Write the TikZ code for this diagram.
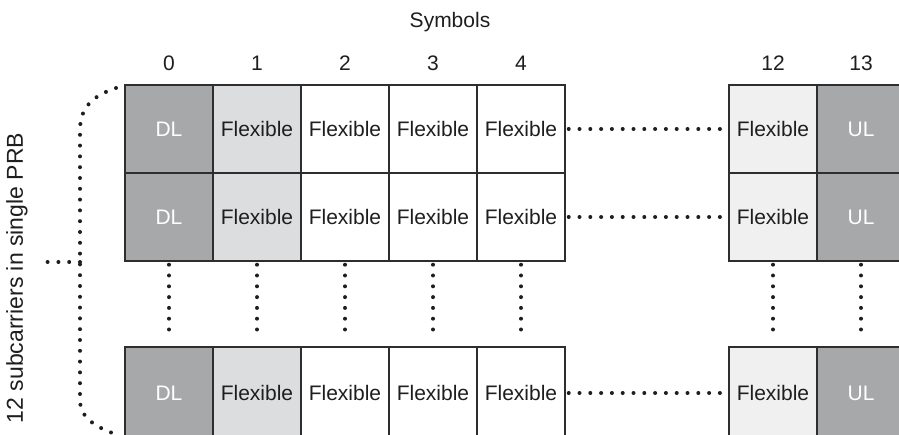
\documentclass[tikz,border=0pt]{standalone}
\usepackage{fontspec}
\setmainfont{Liberation Sans}
\definecolor{cellDark}{HTML}{A7A8AA}
\definecolor{cellMid}{HTML}{DCDDDF}
\definecolor{cellPale}{HTML}{F0F0F1}
\definecolor{edge}{HTML}{2E2E2E}
\definecolor{ink}{HTML}{1E1E1E}
\begin{document}
\begin{tikzpicture}[x=1pt,y=-1pt,
  cell/.style={draw=edge,line width=1.4pt,minimum width=88pt,minimum height=88pt,
    inner sep=0pt,font=\fontsize{21}{25}\selectfont,text=ink},
  tallcell/.style={minimum height=92pt},
  dl/.style={cell,fill=cellDark,text=white},
  flexA/.style={cell,fill=cellMid},
  flexB/.style={cell,fill=white},
  flexC/.style={cell,fill=cellPale},
  dots/.style={line width=4pt,line cap=round,dash pattern=on 0pt off 10.8pt,ink},
  hdr/.style={font=\fontsize{21}{25}\selectfont,text=ink}]
\useasboundingbox (0,0) rectangle (899,435);
\clip (0,0) rectangle (899,435);

% column headings
\node[hdr] (sym) at (450,22) {Symbols};
\foreach \lab/\cx in {0/169,1/257,2/345,3/433,4/521,12/773,13/861}
  \node[hdr] (h\lab) at (\cx,63) {\lab};

% three rows of resource elements (the last one runs past the lower edge)
\foreach \r/\cy/\extra in {a/129/{},b/217/{},c/393/tallcell}{
  \node[dl,\extra]    (\r0)  at (169,\cy) {DL};
  \node[flexA,\extra] (\r1)  at (257,\cy) {Flexible};
  \node[flexB,\extra] (\r2)  at (345,\cy) {Flexible};
  \node[flexB,\extra] (\r3)  at (433,\cy) {Flexible};
  \node[flexB,\extra] (\r4)  at (521,\cy) {Flexible};
  \node[flexC,\extra] (\r12) at (773,\cy) {Flexible};
  \node[dl,\extra]    (\r13) at (861,\cy) {UL};
  \draw[dots] ([xshift=3pt]\r4.east) -- ([xshift=-2pt]\r12.west);
}

% skipped rows between second and last
\foreach \k in {0,1,2,3,4,12,13}
  \draw[dots] ([yshift=-3pt]b\k.south) -- ([yshift=8pt]c\k.north);

% brace over the 12 subcarriers
\coordinate (bt) at (116,88);
\coordinate (bb) at (121,436);
\coordinate (bm) at (80,262);
\coordinate (bl) at (41,262);
\draw[dots] (bt) .. controls (92,96) and (80,108) .. (80,130) -- (80,400)
  .. controls (80,418) and (96,428) .. (bb);
\draw[dots] (bm) -- (bl);
\node[font=\fontsize{23}{27}\selectfont,text=ink,rotate=90] (lbl) at (17,278)
  {12 subcarriers in single PRB};
\end{tikzpicture}
\end{document}
